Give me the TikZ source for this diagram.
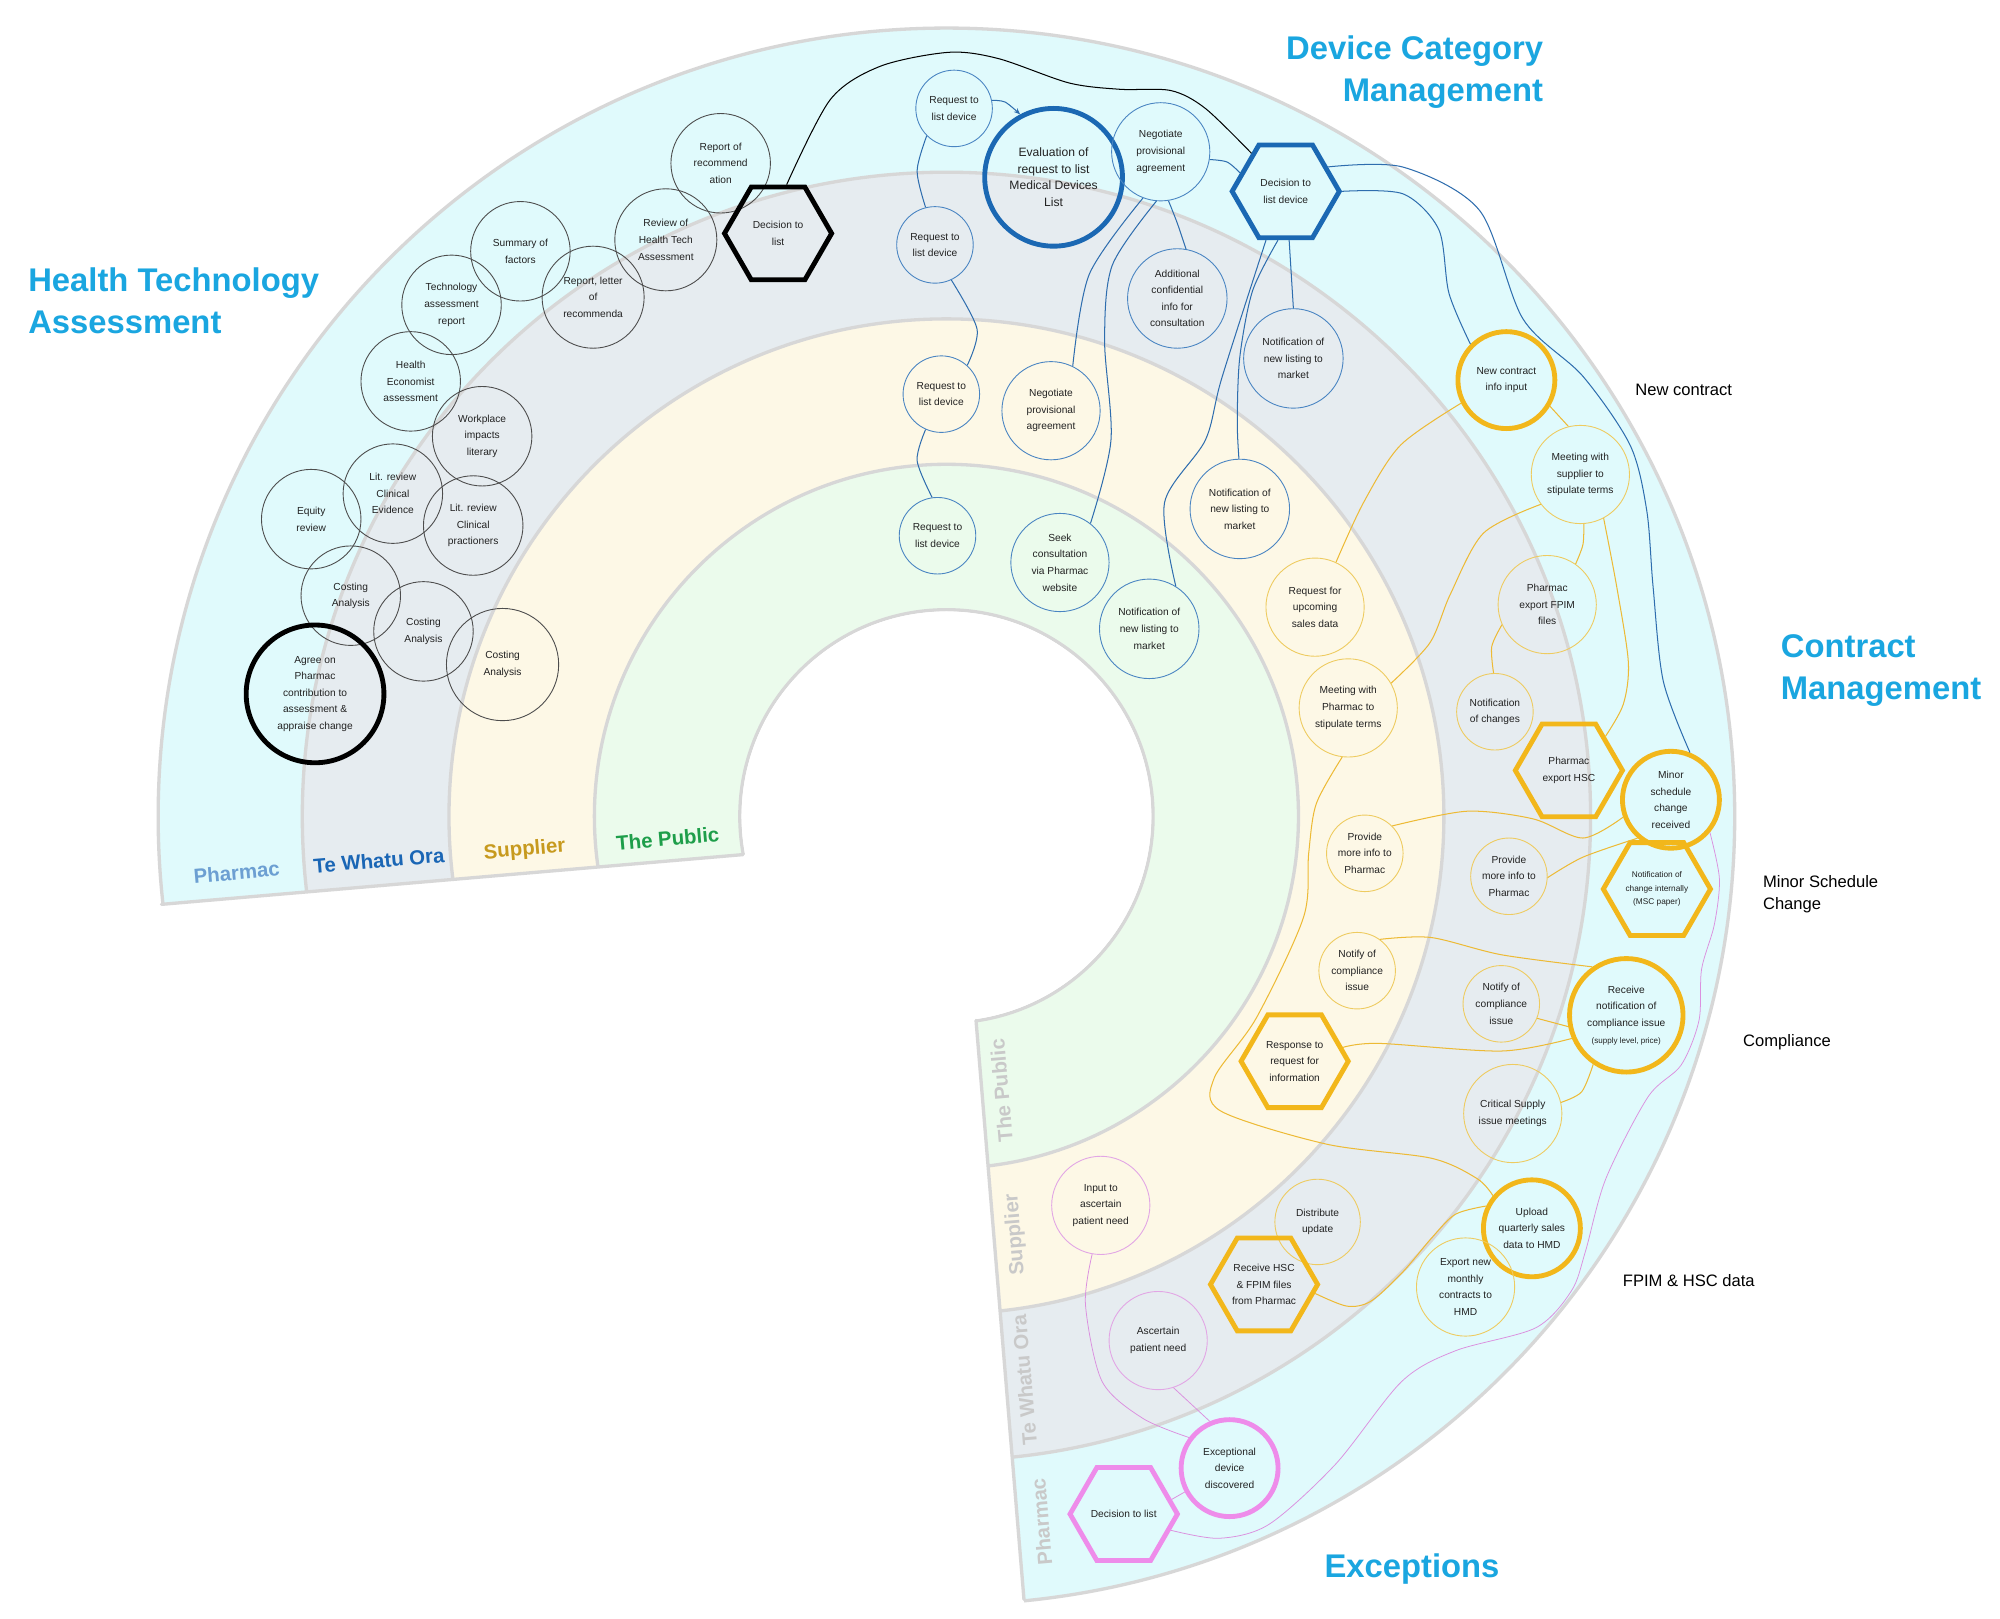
\documentclass[tikz,border=0pt]{standalone}
\usepackage{fontspec}
\setmainfont{Liberation Sans}
\usetikzlibrary{shapes.geometric,arrows.meta}
\definecolor{bandP}{HTML}{E0FAFC}
\definecolor{bandT}{HTML}{E6ECF0}
\definecolor{bandS}{HTML}{FDF8E6}
\definecolor{bandU}{HTML}{EBFBEC}
\definecolor{ringline}{HTML}{D7D7D7}
\definecolor{titleblue}{HTML}{1AA6E0}
\definecolor{htagray}{HTML}{4D4D4D}
\definecolor{dcmthin}{HTML}{4A85C2}
\definecolor{dcmthick}{HTML}{1B68B3}
\definecolor{dcmline}{HTML}{2E6DAE}
\definecolor{cmthin}{HTML}{EECB60}
\definecolor{cmthick}{HTML}{F2B71B}
\definecolor{cmline}{HTML}{EDBA35}
\definecolor{exthin}{HTML}{E2A6E5}
\definecolor{exthick}{HTML}{EE8CEA}
\definecolor{exline}{HTML}{DB90DF}
\definecolor{lblP}{HTML}{6C9FD2}
\definecolor{lblT}{HTML}{1A66B5}
\definecolor{lblS}{HTML}{C79A1E}
\definecolor{lblU}{HTML}{1E9E4A}
\definecolor{lblgray}{HTML}{C9C9C9}
\definecolor{txt}{HTML}{222222}
\newcommand\nodefnt{\fontsize{8}{13}\selectfont}
\newcommand\evalfnt{\fontsize{9.5}{13}\selectfont}
\newcommand\smallfnt{\fontsize{6.5}{10.5}\selectfont}
\begin{document}
\begin{tikzpicture}[x=1pt,y=-1pt,
  bub/.style={circle, inner sep=0pt, align=center, font=\nodefnt, text=txt, line width=0.7pt},
  hta/.style={bub, draw=htagray},
  htathick/.style={bub, draw=black, line width=3.8pt},
  dcm/.style={bub, draw=dcmthin},
  dcmthk/.style={bub, draw=dcmthick, line width=3.8pt},
  cmn/.style={bub, draw=cmthin},
  cmthk/.style={bub, draw=cmthick, line width=3.8pt},
  exn/.style={bub, draw=exthin},
  exthk/.style={bub, draw=exthick, line width=3.8pt},
  hexa/.style={regular polygon, regular polygon sides=6, inner sep=0pt, align=center,
    font=\nodefnt, text=txt, line width=3.8pt, minimum size=84pt},
  conn/.style={line width=0.8pt},
  tlabel/.style={font=\fontsize{25.7}{33}\selectfont\bfseries, text=titleblue, inner sep=0pt},
  rlabel/.style={font=\fontsize{13}{17}\selectfont, text=black, inner sep=0pt},
  blabel/.style={font=\fontsize{16}{19}\selectfont\bfseries, inner sep=0pt},
  ringstroke/.style={draw=ringline, line width=2.6pt}
]
\useasboundingbox (0,0) rectangle (1568,1269);
\fill[white] (0,0) rectangle (1568,1269);

% ---- rings ----
\begin{scope}
\clip (753,655.4) -- (0,719.8) -- (0,0) -- (1568,0) -- (1568,1269) -- (804,1269) -- cycle;
\fill[bandP] (742,640) circle[radius=618];
\fill[bandT] (742,640) circle[radius=505];
\fill[bandS] (742,640) circle[radius=390];
\fill[bandU] (742,640) circle[radius=276];
\fill[white] (742,640) circle[radius=162];
\foreach \rr in {618,505,390,276,162} \draw[ringstroke] (742,640) circle[radius=\rr];
\end{scope}
\fill[white] (742,640) circle[radius=160.6];
\draw[ringstroke, line cap=round] (126.6,709) -- (582.5,670);
\draw[ringstroke, line cap=round] (765.2,800) -- (802.8,1254);

% ---- ring labels ----
\node[blabel, text=lblP, rotate=4.9] (rp1) at (185.6,683.9) {Pharmac};
\node[blabel, text=lblT, rotate=4.9] (rt1) at (297.1,674.6) {Te Whatu Ora};
\node[blabel, text=lblS, rotate=4.9] (rs1) at (411.3,666.6) {Supplier};
\node[blabel, text=lblU, rotate=4.9] (ru1) at (523.5,657.4) {The Public};
\node[blabel, text=lblgray, rotate=94.8] (ru2) at (785,855) {The Public};
\node[blabel, text=lblgray, rotate=94.8] (rs2) at (796,968) {Supplier};
\node[blabel, text=lblgray, rotate=94.8] (rt2) at (803,1082) {Te Whatu Ora};
\node[blabel, text=lblgray, rotate=94.8] (rp2) at (816.5,1193) {Pharmac};

% ---- titles ----
\node[tlabel, anchor=west, align=left] (tHTA) at (22,236) {Health Technology\\Assessment};
\node[tlabel, anchor=east, align=right] (tDCM) at (1210,56.5) {Device Category\\Management};
\node[tlabel, anchor=west, align=left] (tCM) at (1396,526) {Contract\\Management};
\node[tlabel] (tEX) at (1107,1230) {Exceptions};

\node[rlabel] (lnew) at (1320,306) {New contract};
\node[rlabel, anchor=west, align=left] (lmsc) at (1382,701) {Minor Schedule\\Change};
\node[rlabel] (lcomp) at (1401,817) {Compliance};
\node[rlabel] (lfpim) at (1324,1004) {FPIM \& HSC data};

% ---- HTA nodes ----
\node[hta, minimum size=78pt] (h1) at (565,128) {Report of\\recommend\\ation};
\node[hexa, draw=black] (h2) at (610,183) {Decision to\\list};
\node[hta, minimum size=80pt] (h3) at (522,188) {Review of\\Health Tech\\Assessment};
\node[hta, minimum size=78pt] (h4) at (408,197) {Summary of\\factors};
\node[hta, minimum size=80pt] (h5) at (465,233) {Report, letter\\of\\recommenda};
\node[hta, minimum size=78pt] (h6) at (354,239) {Technology\\assessment\\report};
\node[hta, minimum size=78pt] (h7) at (322,299) {Health\\Economist\\assessment};
\node[hta, minimum size=78pt] (h8) at (378,342) {Workplace\\impacts\\literary};
\node[hta, minimum size=78pt] (h9) at (308,387) {Lit. review\\Clinical\\Evidence};
\node[hta, minimum size=78pt] (h10) at (244,407) {Equity\\review};
\node[hta, minimum size=78pt] (h11) at (371,412) {Lit. review\\Clinical\\practioners};
\node[hta, minimum size=78pt] (h12) at (275,467) {Costing\\Analysis};
\node[hta, minimum size=78pt] (h13) at (332,495) {Costing\\Analysis};
\node[hta, minimum size=88pt] (h14) at (394,521) {Costing\\Analysis};
\node[htathick, minimum size=108pt] (h15) at (247,544) {Agree on\\Pharmac\\contribution to\\assessment \&\\appraise change};

% ---- DCM nodes ----
\node[dcm, minimum size=60pt] (d1) at (748,85) {Request to\\list device};
\node[dcmthk, minimum size=108pt, font=\evalfnt] (d2) at (826,139) {Evaluation of\\request to list\\Medical Devices\\List};
\node[dcm, minimum size=77pt] (d3) at (910,119) {Negotiate\\provisional\\agreement};
\node[hexa, draw=dcmthick] (d4) at (1008,150) {Decision to\\list device};
\node[dcm, minimum size=60pt] (d5) at (733,192) {Request to\\list device};
\node[dcm, minimum size=78pt] (d6) at (923,234) {Additional\\confidential\\info for\\consultation};
\node[dcm, minimum size=78pt] (d7) at (1014,281) {Notification of\\new listing to\\market};
\node[dcm, minimum size=60pt] (d8) at (738,309) {Request to\\list device};
\node[dcm, minimum size=77pt] (d9) at (824,322) {Negotiate\\provisional\\agreement};
\node[dcm, minimum size=78pt] (d10) at (972,399) {Notification of\\new listing to\\market};
\node[dcm, minimum size=60pt] (d11) at (735,420) {Request to\\list device};
\node[dcm, minimum size=77pt] (d12) at (831,441) {Seek\\consultation\\via Pharmac\\website};
\node[dcm, minimum size=78pt] (d13) at (901,493) {Notification of\\new listing to\\market};

% ---- Contract management nodes ----
\node[cmthk, minimum size=76pt] (c1) at (1181,298) {New contract\\info input};
\node[cmn, minimum size=77pt] (c2) at (1239,372) {Meeting with\\supplier to\\stipulate terms};
\node[cmn, minimum size=77pt] (c3) at (1213,474) {Pharmac\\export FPIM\\files};
\node[cmn, minimum size=77pt] (c4) at (1031,476) {Request for\\upcoming\\sales data};
\node[cmn, minimum size=60pt] (c5) at (1172,558) {Notification\\of changes};
\node[cmn, minimum size=77pt] (c6) at (1057,555) {Meeting with\\Pharmac to\\stipulate terms};
\node[hexa, draw=cmthick] (c7) at (1230,604) {Pharmac\\export HSC};
\node[cmthk, minimum size=76pt] (c8) at (1310,627) {Minor\\schedule\\change\\received};
\node[cmn, minimum size=60pt] (c9) at (1070,669) {Provide\\more info to\\Pharmac};
\node[cmn, minimum size=60pt] (c10) at (1183,687) {Provide\\more info to\\Pharmac};
\node[hexa, draw=cmthick, font=\smallfnt] (c11) at (1299,697) {Notification of\\change internally\\(MSC paper)};
\node[cmn, minimum size=60pt] (c12) at (1064,761) {Notify of\\compliance\\issue};
\node[cmn, minimum size=60pt] (c13) at (1177,787) {Notify of\\compliance\\issue};
\node[cmthk, minimum size=89pt] (c14) at (1275,796) {Receive\\notification of\\compliance issue\\{\fontsize{6.3}{10}\selectfont (supply level, price)}};
\node[hexa, draw=cmthick] (c15) at (1015,832) {Response to\\request for\\information};
\node[cmn, minimum size=77pt] (c16) at (1186,873) {Critical Supply\\issue meetings};
\node[cmn, minimum size=67pt] (c17) at (1033,958) {Distribute\\update};
\node[cmthk, minimum size=76pt] (c18) at (1201,963) {Upload\\quarterly sales\\data to HMD};
\node[hexa, draw=cmthick] (c19) at (991,1007) {Receive HSC\\\& FPIM files\\from Pharmac};
\node[cmn, minimum size=77pt] (c20) at (1149,1009) {Export new\\monthly\\contracts to\\HMD};

% ---- Exceptions nodes ----
\node[exn, minimum size=77pt] (e1) at (863,945) {Input to\\ascertain\\patient need};
\node[exn, minimum size=77pt] (e2) at (908,1051) {Ascertain\\patient need};
\node[exthk, minimum size=76pt] (e3) at (964,1151) {Exceptional\\device\\discovered};
\node[hexa, draw=exthick] (e4) at (881,1187) {Decision to list};

% ---- connectors: black ----
\draw[conn, black] plot[smooth] coordinates {(h2.80) (651,78) (690,52) (744,41) (783,46) (838,65) (878,70) (918,71) (945,85) (d4.132)};

% ---- connectors: blue ----
\draw[conn, dcmline, -{Stealth[length=5pt,width=4pt]}] plot[smooth] coordinates {(d1.12) (788,80) (d2.118)};
\draw[conn, dcmline] plot[smooth] coordinates {(d1.225) (719,134) (d5.104)};
\draw[conn, dcmline] plot[smooth] coordinates {(d5.295) (766,258) (d8.48)};
\draw[conn, dcmline] plot[smooth] coordinates {(d8.246) (719,361) (d11.98)};
\draw[conn, dcmline] plot[smooth] coordinates {(d3.249) (854,215) (d9.64)};
\draw[conn, dcmline] plot[smooth] coordinates {(d3.265) (872,208) (866,267) (871,345) (d12.52)};
\draw[conn, dcmline] plot[smooth] coordinates {(d3.279) (923,175) (d6.80)};
\draw[conn, dcmline] plot[smooth] coordinates {(d3.-9) (962,127) (d4.158)};
\draw[conn, dcmline] (d4.274) -- (d7.90);
\draw[conn, dcmline] plot[smooth] coordinates {(d4.261) (982,228) (972,280) (970,330) (d10.91)};
\draw[conn, dcmline] plot[smooth] coordinates {(d4.248) (958,296) (945,345) (913,394) (d13.58)};
\draw[conn, dcmline] plot[smooth] coordinates {(d4.0) (1100,152) (1128,180) (1136,230) (c1.135)};
\draw[conn, dcmline] plot[smooth] coordinates {(d4.30) (1100,131) (1160,165) (1194,250) (1241,295) (1278,349) (1291,400) (1296,460) (1304,534) (c8.68)};

% ---- connectors: yellow ----
\draw[conn, cmline] plot[smooth] coordinates {(c1.207) (1098,349) (1069,394) (c4.65)};
\draw[conn, cmline] (c1.-31) -- (c2.104);
\draw[conn, cmline] plot[smooth] coordinates {(c2.217) (1163,418) (1137,466) (1121,504) (c6.30)};
\draw[conn, cmline] plot[smooth] coordinates {(c2.274) (1241,427) (c3.55)};
\draw[conn, cmline] plot[smooth] coordinates {(c2.298) (1267.5,460) (1276.6,519) (1272.7,552) (c7.43)};
\draw[conn, cmline] plot[smooth] coordinates {(c3.204) (1169.5,507) (c5.92)};
\draw[conn, cmline] plot[smooth] coordinates {(c6.263) (1032,630) (1026,669) (1022,719) (985,798) (952,845) (957,871) (1040,897) (1122,908) (1158,924) (c18.140)};
\draw[conn, cmline] plot[smooth] coordinates {(c9.45) (1150,636) (1202,642) (1241,657) (c8.200)};
\draw[conn, cmline] plot[smooth] coordinates {(c10.-2) (1241,672) (c8.229)};
\draw[conn, cmline] plot[smooth] coordinates {(c12.54) (1122,735) (1177,748.5) (c14.125)};
\draw[conn, cmline] (c13.-22) -- (c14.191);
\draw[conn, cmline] plot[smooth] coordinates {(c15.16) (1081,818) (1177,824) (c14.203)};
\draw[conn, cmline] plot[smooth] coordinates {(c14.236) (1240,856) (c16.13)};
\draw[conn, cmline] plot[smooth] coordinates {(c18.154) (1141,952) (1122,971) (1100,997) (1075,1020) (1056,1024) (c19.350)};

% ---- connectors: pink ----
\draw[line width=0.6pt, exline] plot[smooth] coordinates {(e1.260) (851,1023) (864,1083) (896,1112) (e3.143)};
\draw[line width=0.6pt, exline] (e2.288) -- (e3.113);
\draw[line width=0.6pt, exline] (e3.208) -- (e4.17);
\draw[line width=0.6pt, exline] plot[smooth] coordinates {(e4.-19) (956,1206) (995,1195) (1047,1148) (1099,1083) (1141,1059) (1204,1041) (1232,1012) (1243,981) (1259,924) (1292,860) (1318,835) (1332,800) (1334,760) (1344,725) (1348,689) (c8.-40)};
\end{tikzpicture}
\end{document}
